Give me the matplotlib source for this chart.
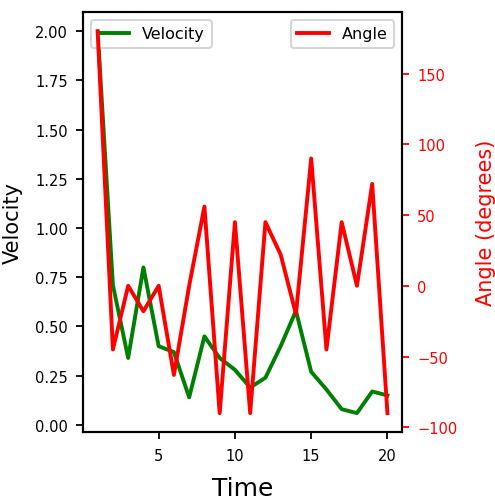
import matplotlib
matplotlib.use('Agg')
import matplotlib.pyplot as plt

time = list(range(1, 21))
velocity = [2.00, 0.71, 0.34, 0.80, 0.40, 0.37, 0.14, 0.45, 0.34, 0.28,
            0.19, 0.24, 0.40, 0.58, 0.27, 0.18, 0.08, 0.06, 0.17, 0.15]
angle = [180, -45, 0, -18, 0, -63, 0, 56, -90, 45,
         -90, 45, 22, -20, 90, -45, 45, 0, 72, -90]

plt.rcParams['axes.linewidth'] = 1.5
plt.rcParams['xtick.major.size'] = 5
plt.rcParams['ytick.major.size'] = 5
plt.rcParams['xtick.major.width'] = 1.3
plt.rcParams['ytick.major.width'] = 1.3
plt.rcParams['xtick.major.pad'] = 6
plt.rcParams['ytick.major.pad'] = 6

fig, ax1 = plt.subplots(figsize=(4.95, 5.02), dpi=100)
fig.subplots_adjust(left=0.168, right=0.812, top=0.974, bottom=0.137)

ax1.plot(time, velocity, color='green', linewidth=2.8, label='Velocity')
ax1.set_xlabel('Time', fontsize=18, labelpad=10)
ax1.set_ylabel('Velocity', fontsize=15, labelpad=9)
ax1.tick_params(axis='both', labelsize=10.5)
leg1 = ax1.legend(loc='upper left', fontsize=11.5)
leg1.get_frame().set_linewidth(1.5)

ax2 = ax1.twinx()
ax2.plot(time, angle, color='red', linewidth=2.8, label='Angle')
ax2.set_ylabel('Angle (degrees)', color='red', fontsize=15, labelpad=13)
ax2.tick_params(axis='y', colors='red', labelsize=10.5)
leg2 = ax2.legend(loc='upper right', fontsize=11.5)
leg2.get_frame().set_linewidth(1.5)

plt.savefig('out.png')
